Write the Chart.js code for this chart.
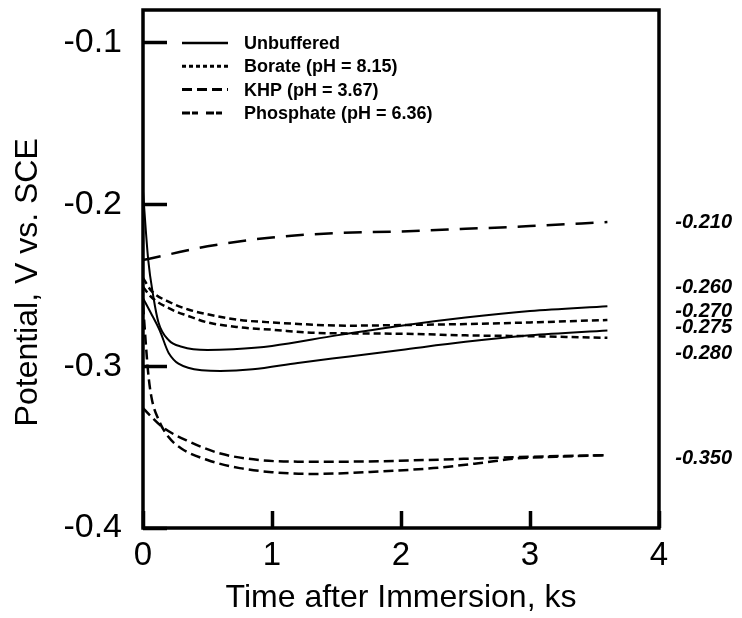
<!DOCTYPE html>
<html>
<head>
<meta charset="utf-8">
<script src="https://cdn.jsdelivr.net/npm/chart.js@4.4.0/dist/chart.umd.min.js"></script>
<style>
  html, body { margin: 0; padding: 0; background: #fff; }
</style>
</head>
<body>
<canvas id="myChart" width="742" height="618"></canvas>
<script>
// time after immersion (ks) and potential (V vs. SCE)
const unbuffered1Time = [0, 0.04, 0.08, 0.12, 0.2, 0.3, 0.5, 0.7, 1.0, 1.5, 2.0, 2.5, 3.0, 3.6];
const unbuffered1Pot = [-0.192, -0.234, -0.257, -0.273, -0.284, -0.288, -0.290, -0.2895, -0.2875, -0.281, -0.275, -0.270, -0.266, -0.263];

const unbuffered2Time = [0, 0.06, 0.13, 0.2, 0.35, 0.6, 0.85, 1.2, 1.6, 2.0, 2.5, 3.0, 3.6];
const unbuffered2Pot = [-0.258, -0.267, -0.278, -0.292, -0.301, -0.303, -0.302, -0.298, -0.294, -0.290, -0.285, -0.281, -0.278];

const borate1Time = [0, 0.06, 0.22, 0.35, 0.5, 0.75, 1.0, 1.6, 2.1, 2.5, 3.0, 3.6];
const borate1Pot = [-0.2455, -0.253, -0.261, -0.265, -0.268, -0.2715, -0.273, -0.275, -0.2745, -0.274, -0.273, -0.2715];

const borate2Time = [0, 0.06, 0.22, 0.35, 0.5, 0.75, 1.0, 1.35, 2.0, 2.5, 3.0, 3.6];
const borate2Pot = [-0.251, -0.257, -0.265, -0.269, -0.273, -0.276, -0.2775, -0.2795, -0.280, -0.281, -0.2815, -0.2825];

const khpTime = [0, 0.2, 0.5, 1.0, 1.5, 2.0, 2.5, 3.0, 3.6];
const khpPot = [-0.2345, -0.231, -0.226, -0.2205, -0.2178, -0.2168, -0.2152, -0.2135, -0.211];

const phosphate1Time = [0, 0.15, 0.37, 0.6, 0.9, 1.2, 1.6, 2.2, 2.6, 3.0, 3.6];
const phosphate1Pot = [-0.326, -0.3376, -0.347, -0.354, -0.358, -0.359, -0.359, -0.358, -0.357, -0.356, -0.355];

const phosphate2Time = [0, 0.04, 0.065, 0.12, 0.2, 0.3, 0.5, 0.75, 1.0, 1.3, 1.85, 2.25, 2.6, 2.9, 3.2, 3.6];
const phosphate2Pot = [-0.262, -0.304, -0.319, -0.333, -0.344, -0.351, -0.358, -0.363, -0.3655, -0.3666, -0.365, -0.363, -0.360, -0.357, -0.356, -0.355];

const legendLabels = ['Unbuffered', 'Borate (pH = 8.15)', 'KHP (pH = 3.67)', 'Phosphate (pH = 6.36)'];
const endLabels = ['-0.210', '-0.260', '-0.270', '-0.275', '-0.280', '-0.350'];

const FONT = 'Liberation Sans, Arial, sans-serif';
Chart.defaults.font.family = FONT;
Chart.defaults.color = '#000';

const toPoints = (xs, ys) => xs.map((x, i) => ({ x: x, y: ys[i] }));

const line = (label, xs, ys, dash, width) => ({
    label: label,
    data: toPoints(xs, ys),
    borderColor: '#000',
    borderWidth: width,
    borderDash: dash,
    pointRadius: 0,
    fill: false,
    cubicInterpolationMode: 'monotone'
});

// legend drawn inside the plot, top left
const legendStyles = [
    { dash: [], width: 2.5 },
    { dash: [4, 3], width: 3 },
    { dash: [10, 5], width: 3 },
    { dash: [8, 2, 6, 8], width: 3 }
];

const insideLegend = {
    id: 'insideLegend',
    afterDraw(chart) {
        const { ctx, chartArea } = chart;
        ctx.save();
        ctx.fillStyle = '#000';
        ctx.strokeStyle = '#000';
        ctx.font = 'bold 18px ' + FONT;
        ctx.textBaseline = 'middle';
        legendLabels.forEach((txt, i) => {
            const y = chartArea.top + 33 + i * 23.3;
            ctx.lineWidth = legendStyles[i].width;
            ctx.setLineDash(legendStyles[i].dash);
            ctx.beginPath();
            ctx.moveTo(chartArea.left + 39, y);
            ctx.lineTo(chartArea.left + 85, y);
            ctx.stroke();
            ctx.fillText(txt, chartArea.left + 101, y + 1);
        });
        ctx.restore();
    }
};

// final potentials written to the right of the frame
const endLabelAnchors = [-0.211, -0.2517, -0.2665, -0.2764, -0.2919, -0.357];

const rightLabels = {
    id: 'rightLabels',
    afterDraw(chart) {
        const { ctx } = chart;
        const yScale = chart.scales.y;
        ctx.save();
        ctx.fillStyle = '#000';
        ctx.font = 'italic bold 20px ' + FONT;
        ctx.textAlign = 'right';
        ctx.textBaseline = 'middle';
        endLabels.forEach((txt, i) => {
            ctx.fillText(txt, 732, yScale.getPixelForValue(endLabelAnchors[i]));
        });
        ctx.restore();
    }
};

const frame = {
    id: 'frame',
    afterDatasetsDraw(chart) {
        const { ctx, chartArea } = chart;
        ctx.save();
        ctx.strokeStyle = '#000';
        ctx.lineWidth = 3.5;
        ctx.setLineDash([]);
        ctx.strokeRect(chartArea.left, chartArea.top, chartArea.right - chartArea.left, chartArea.bottom - chartArea.top);
        ctx.restore();
    }
};

document.addEventListener('DOMContentLoaded', () => {
    const ctx = document.getElementById('myChart');
    new Chart(ctx, {
        type: 'line',
        data: {
            datasets: [
                line('Unbuffered', unbuffered1Time, unbuffered1Pot, [], 2),
                line('Unbuffered', unbuffered2Time, unbuffered2Pot, [], 2),
                line('Borate (pH = 8.15)', borate1Time, borate1Pot, [7, 4], 2.5),
                line('Borate (pH = 8.15)', borate2Time, borate2Pot, [7, 4], 2.5),
                line('KHP (pH = 3.67)', khpTime, khpPot, [18, 11], 2.5),
                line('Phosphate (pH = 6.36)', phosphate1Time, phosphate1Pot, [10, 5], 2.5),
                line('Phosphate (pH = 6.36)', phosphate2Time, phosphate2Pot, [10, 5], 2.5)
            ]
        },
        options: {
            responsive: false,
            animation: false,
            devicePixelRatio: 1,
            layout: { padding: { top: 10, right: 83, left: 0, bottom: 0 } },
            plugins: {
                legend: { display: false },
                tooltip: { enabled: false }
            },
            scales: {
                x: {
                    type: 'linear',
                    min: 0,
                    max: 4,
                    afterFit: s => { s.height = 90; },
                    ticks: { stepSize: 1, font: { size: 33 }, color: '#000', padding: 25 },
                    grid: { drawOnChartArea: false, drawTicks: true, tickLength: -17, tickWidth: 3.5, tickColor: '#000' },
                    border: { display: false },
                    title: { display: true, text: 'Time after Immersion, ks', font: { size: 32 }, color: '#000', padding: { top: 0, bottom: 1 } }
                },
                y: {
                    type: 'linear',
                    min: -0.4,
                    max: -0.08,
                    // keep the plot box where the reference has it
                    afterFit: s => { s.width = 143; s.paddingTop = 0; s.paddingBottom = 0; },
                    ticks: {
                        stepSize: 0.1,
                        includeBounds: false,
                        font: { size: 34 },
                        color: '#000',
                        padding: 45,
                        callback: v => v.toFixed(1)
                    },
                    grid: { drawOnChartArea: false, drawTicks: true, tickLength: -24, tickWidth: 3.5, tickColor: '#000' },
                    border: { display: false },
                    title: { display: true, text: 'Potential, V vs. SCE   ', font: { size: 32 }, color: '#000', padding: { top: 9, bottom: 0 } }
                }
            }
        },
        plugins: [insideLegend, rightLabels, frame]
    });
});
</script>
</body>
</html>
